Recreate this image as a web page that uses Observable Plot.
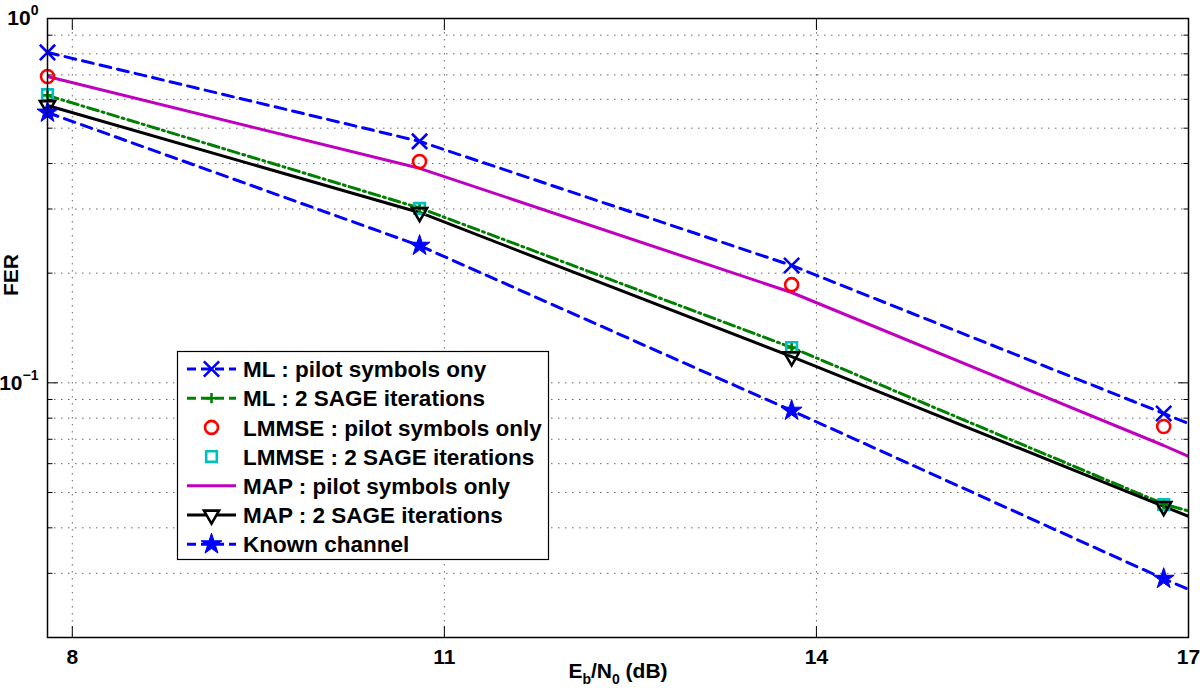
<!DOCTYPE html>
<html><head><meta charset="utf-8">
<script src="https://cdn.jsdelivr.net/npm/d3@7"></script>
<script src="https://cdn.jsdelivr.net/npm/@observablehq/plot@0.6"></script>
<style>
body{margin:0;background:#fff;}
#wrap{position:relative;width:1200px;height:693px;}
</style></head><body><div id="wrap"></div>
<script>
// ---- data ----
const snr = [7.8, 10.8, 13.8, 16.8];           // marker positions (dB)
const lineSnr = [7.8, 10.8, 13.8, 16.8, 17];   // line vertices (last = right edge)
const xTicks = [8, 11, 14, 17];
const xGrid = [8, 11, 14];
const yMajor = [0.1, 1];
const yMinor = [0.02,0.03,0.04,0.05,0.06,0.07,0.08,0.09,0.2,0.3,0.4,0.5,0.6,0.7,0.8,0.9];

const mlPilot    = [0.807, 0.460, 0.210, 0.0824, 0.0773];
const mlSage     = [0.615, 0.302, 0.125, 0.0465, 0.0445];
const lmmsePilot = [0.693, 0.405, 0.186, 0.0759];
const lmmseSage  = [0.618, 0.301, 0.125, 0.0463];
const mapPilot   = [0.693, 0.388, 0.177, 0.0673, 0.0628];
const mapSage    = [0.577, 0.2935, 0.118, 0.0458, 0.0430];
const known      = [0.552, 0.238, 0.0839, 0.0290, 0.0271];

const names = ["ML : pilot symbols ony", "ML : 2 SAGE iterations", "LMMSE : pilot symbols only",
  "LMMSE : 2 SAGE iterations", "MAP : pilot symbols only", "MAP : 2 SAGE iterations", "Known channel"];
const colors = ["#0000ff", "#008000", "#ff0000", "#00bfbf", "#bf00bf", "#000000", "#0000ff"];
const values = [mlPilot, mlSage, lmmsePilot, lmmseSage, mapPilot, mapSage, known];
const hasLine = [true, true, false, false, true, true, true];
const dashes = ["11,7", "11,4,2,4", null, null, null, null, "11,7"];
const symbols = ["times", "plus", "circle", "square", null, "triangle", "star"];
const radii = [7, 3.4, 6.5, 6, 0, 5.6, 6.6];
const filled = [false, false, false, false, false, false, true];
const rotations = [0, 0, 0, 0, 0, 180, 0];

// ---- build tables ----
const series = names.map((n, i) => ({
  name: n, color: colors[i], dash: dashes[i], symbol: symbols[i], r: radii[i],
  fill: filled[i], rotate: rotations[i],
  line: hasLine[i] ? lineSnr.map((x, j) => ({x, y: values[i][j]})) : null,
  pts: symbols[i] ? snr.map((x, j) => ({x, y: values[i][j]})) : null
}));

const gridStyle = {stroke: "#000", strokeOpacity: 0.6, strokeWidth: 1, strokeDasharray: "1.5,5.5"};
const marks = [
  Plot.ruleY(yMinor.concat(yMajor), gridStyle),
  Plot.ruleX(xGrid, gridStyle)
];
for (const s of series) {
  if (s.line) marks.push(Plot.line(s.line, {x: "x", y: "y", stroke: s.color, strokeWidth: 3,
    strokeDasharray: s.dash || undefined, clip: true}));
}
for (const s of series) {
  if (s.pts) marks.push(Plot.dot(s.pts, {x: "x", y: "y", symbol: () => s.symbol, r: s.r,
    stroke: s.color, fill: s.fill ? s.color : "none", strokeWidth: s.fill ? 1 : 2.6, rotate: s.rotate}));
}
const axFont = {fontSize: 21, fontWeight: "bold"};
marks.push(
  Plot.frame({stroke: "#000", strokeWidth: 1.5}),
  Plot.axisX(xTicks, {anchor: "bottom", tickSize: -11, tickPadding: 23, tickFormat: d => String(d), label: null, ...axFont}),
  Plot.axisX(xTicks, {anchor: "top", tickSize: -11, tickFormat: () => "", label: null}),
  Plot.axisY(yMajor, {anchor: "left", tickSize: -11, tickPadding: 20, label: null,
    tickFormat: d => "10^" + Math.round(Math.log10(d)), ...axFont}),
  Plot.axisY(yMajor, {anchor: "right", tickSize: -11, tickFormat: () => "", label: null}),
  Plot.axisY(yMinor, {anchor: "left", tickSize: -5.5, tickFormat: () => "", label: null}),
  Plot.axisY(yMinor, {anchor: "right", tickSize: -5.5, tickFormat: () => "", label: null})
);

const chart = Plot.plot({
  width: 1200, height: 693,
  marginLeft: 47, marginRight: 12, marginTop: 18, marginBottom: 56,
  x: {domain: [7.8, 17]},
  y: {type: "log", domain: [0.02, 1]},
  style: {fontFamily: "'Liberation Sans', Arial, Helvetica, sans-serif", background: "white", overflow: "visible", color: "#000"},
  marks
});
document.getElementById("wrap").appendChild(chart);

// ---- text refinements ----
const svg = d3.select(chart);
svg.selectAll('g[aria-label="y-axis tick label"] text').each(function() {
  const t = d3.select(this);
  const s = t.text();
  if (!s.includes("^")) return;
  const [b, e] = s.split("^");
  t.text(b);
  t.append("tspan").attr("dy", "-0.7em").attr("font-size", "14px").text(e.replace("-", "\u2212"));
});

const xl = svg.append("text").attr("x", 618).attr("y", 678).attr("text-anchor", "middle")
  .attr("font-size", 21).attr("font-weight", "bold").style("white-space", "pre");
xl.append("tspan").text("E");
xl.append("tspan").attr("dy", 6).attr("font-size", 14).text("b");
xl.append("tspan").attr("dy", -6).text("/N");
xl.append("tspan").attr("dy", 6).attr("font-size", 14).text("0");
xl.append("tspan").attr("dy", -6).text(" (dB)");

svg.append("text").attr("transform", "translate(18,275) rotate(-90)").attr("text-anchor", "middle")
  .attr("font-size", 21).attr("font-weight", "bold").text("FER");

// ---- legend ----
const lg = svg.append("g").attr("text-anchor", "start");
lg.append("rect").attr("x", 177.5).attr("y", 351.5).attr("width", 371).attr("height", 208)
  .attr("fill", "white").attr("stroke", "black").attr("stroke-width", 1.2);
const d3sym = {times: d3.symbolTimes, plus: d3.symbolPlus, circle: d3.symbolCircle,
  square: d3.symbolSquare, triangle: d3.symbolTriangle, star: d3.symbolStar};
series.forEach((s, i) => {
  const cy = 369 + i * 29.2;
  if (s.line) lg.append("line").attr("x1", 187).attr("x2", 236).attr("y1", cy).attr("y2", cy)
    .attr("stroke", s.color).attr("stroke-width", 3).attr("stroke-dasharray", s.dash ? "9,5" : null);
  if (s.symbol) lg.append("path").attr("d", d3.symbol(d3sym[s.symbol], Math.PI * s.r * s.r)())
    .attr("transform", `translate(211.5,${cy}) rotate(${s.rotate})`)
    .attr("fill", s.fill ? s.color : (s.line ? "white" : "none")).attr("stroke", s.color)
    .attr("stroke-width", s.fill ? 1 : 2.6);
  lg.append("text").attr("x", 243).attr("y", cy).attr("dy", "0.36em").attr("font-size", 22.5)
    .attr("text-anchor", "start").attr("font-weight", "bold").text(s.name);
});
</script></body></html>
